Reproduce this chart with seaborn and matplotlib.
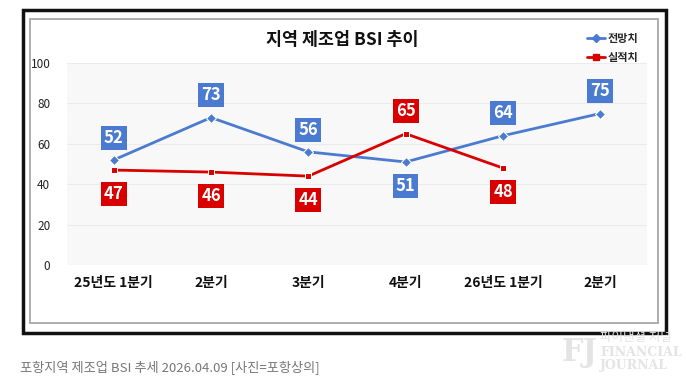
import pandas as pd
import numpy as np
import matplotlib
matplotlib.use('Agg')
import matplotlib.pyplot as plt
from matplotlib.patches import Rectangle
import seaborn as sns

# Data
quarters = ['25년도 1분기', '2분기', '3분기', '4분기', '26년도 1분기', '2분기 ']
forecast = [52, 73, 56, 51, 64, 75]          # 전망치
actual = [47, 46, 44, 65, 48, np.nan]        # 실적치
forecast_label_up = [True, True, True, False, True, True]
actual_label_up = [False, False, False, True, False, False]

blue = '#4A7BD0'
red = '#D90000'

sns.set_theme(style='white')
plt.rcParams['font.family'] = ['Noto Sans CJK KR', 'DejaVu Sans']

df = pd.DataFrame({
    'x': list(range(len(quarters))) * 2,
    'value': forecast + actual,
    'series': ['전망치'] * len(quarters) + ['실적치'] * len(quarters),
})

fig = plt.figure(figsize=(6.86, 3.91), dpi=100)
fig.patch.set_facecolor('white')

# photo frame around the chart
fig.patches.append(Rectangle((23 / 686, 1 - 333 / 391), 643 / 686, 323 / 391,
                             transform=fig.transFigure, fill=False, ec='#111111', lw=2.5))
fig.patches.append(Rectangle((30 / 686, 1 - 323 / 391), 628 / 686, 304 / 391,
                             transform=fig.transFigure, fill=False, ec='#a0a0a0', lw=1.2))

ax = fig.add_axes([67 / 686, 1 - 265 / 391, 580 / 686, 202 / 391])
ax.set_facecolor('#f8f8f8')

sns.lineplot(data=df, x='x', y='value', hue='series', style='series',
             palette={'전망치': blue, '실적치': red},
             markers={'전망치': 'D', '실적치': 's'}, dashes=False,
             markersize=5, linewidth=2, ax=ax, legend=False)

# value labels in boxes
def put_labels(vals, ups, color):
    for i, (v, up) in enumerate(zip(vals, ups)):
        if np.isnan(v):
            continue
        off = 16 if up else -17
        ax.annotate(f'{int(v)}', (i, v), xytext=(0, off), textcoords='offset points',
                    ha='center', va='center', color='white', fontsize=12, fontweight='bold',
                    bbox=dict(boxstyle='square,pad=0.18', fc=color, ec='none'))

put_labels(forecast, forecast_label_up, blue)
put_labels(actual, actual_label_up, red)

ax.set_ylim(0, 100)
ax.set_xlim(-0.48, 5.48)
ax.set_yticks([0, 20, 40, 60, 80, 100])
ax.set_xticks(range(len(quarters)))
ax.set_xticklabels([q.strip() for q in quarters], fontsize=10, fontweight='bold', color='#111111')
ax.tick_params(axis='y', labelsize=8.5, colors='#222222', length=0, pad=12)
for t in ax.get_yticklabels():
    t.set_fontweight('medium')
ax.tick_params(axis='x', length=0, pad=8)
ax.grid(axis='y', color='#ebebeb', lw=0.8)
ax.set_xlabel('')
ax.set_ylabel('')
for s in ax.spines.values():
    s.set_visible(False)

fig.text(342 / 686, 1 - 40 / 391, '지역 제조업 BSI 추이', ha='center', va='center',
         fontsize=12.5, fontweight='bold', color='#111111')

# legend
handles = [plt.Line2D([], [], color=blue, marker='D', markersize=4, lw=2, label='전망치'),
           plt.Line2D([], [], color=red, marker='s', markersize=4, lw=2, label='실적치')]
fig.legend(handles=handles, loc='upper right', bbox_to_anchor=(648 / 686, 1 - 22 / 391),
           frameon=False, prop={'size': 8, 'weight': 'bold'}, handlelength=1.6,
           handletextpad=0.2, labelspacing=0.5)

# caption
fig.text(20 / 686, 1 - 368 / 391, '포항지역 제조업 BSI 추세 2026.04.09 [사진=포항상의]',
         ha='left', va='center', fontsize=9.5, color='#777777')

# watermark
fig.text(580 / 686, 1 - 352 / 391, 'FJ', fontsize=22, family='DejaVu Serif',
         color='#e4e4e4', va='center', ha='center', fontweight='bold')
fig.text(600 / 686, 1 - 337 / 391, '파이낸셜 저널', fontsize=9, color='#e4e4e4', va='center')
fig.text(600 / 686, 1 - 352 / 391, 'FINANCIAL', fontsize=9, family='DejaVu Serif',
         color='#e4e4e4', va='center', fontweight='bold')
fig.text(600 / 686, 1 - 366 / 391, 'JOURNAL', fontsize=9, family='DejaVu Serif',
         color='#e4e4e4', va='center', fontweight='bold')

fig.savefig('out.png', dpi=100)
